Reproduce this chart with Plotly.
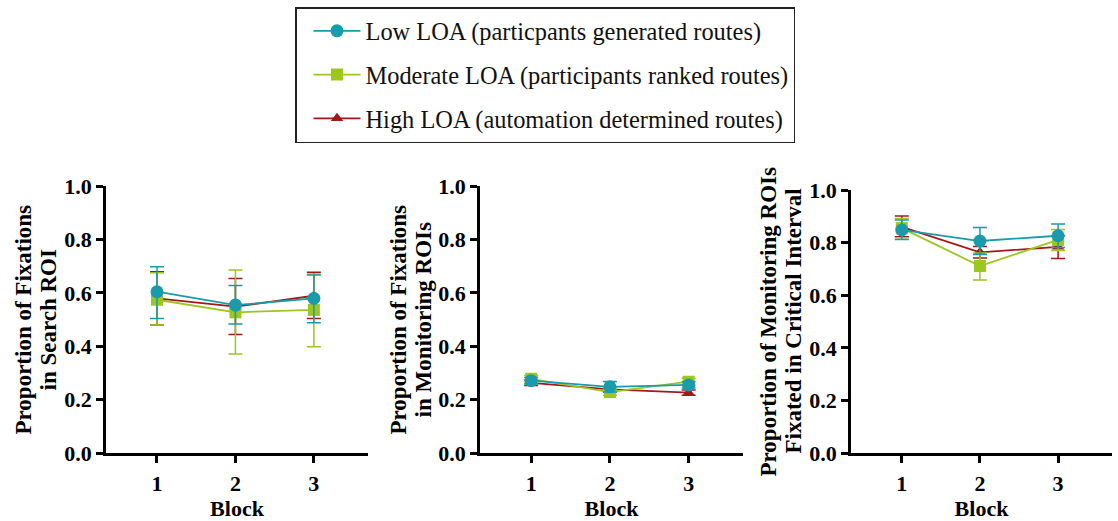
import plotly.graph_objects as go

blocks = ["1", "2", "3"]
series_names = [
    "Low LOA (particpants generated routes)",
    "Moderate LOA (participants ranked routes)",
    "High LOA (automation determined routes)",
]
y_title_lines = [
    ["Proportion of Fixations", "in Search ROI"],
    ["Proportion of Fixations", "in Monitoring ROIs"],
    ["Proportion of Monitoring ROIs", "Fixated in Critical Interval"],
]
x_title = "Block"
y_ticks = [0.0, 0.2, 0.4, 0.6, 0.8, 1.0]

# Panel 1: Search ROI
p1_low_mean = [0.604, 0.554, 0.579]
p1_low_up = [0.698, 0.627, 0.667]
p1_low_lo = [0.504, 0.483, 0.488]
p1_mod_mean = [0.574, 0.527, 0.536]
p1_mod_up = [0.675, 0.685, 0.670]
p1_mod_lo = [0.479, 0.371, 0.398]
p1_high_mean = [0.579, 0.548, 0.589]
p1_high_up = [0.679, 0.654, 0.677]
p1_high_lo = [0.479, 0.444, 0.504]

# Panel 2: Monitoring ROIs
p2_low_mean = [0.271, 0.248, 0.255]
p2_low_up = [0.283, 0.268, 0.267]
p2_low_lo = [0.259, 0.228, 0.243]
p2_mod_mean = [0.278, 0.228, 0.267]
p2_mod_up = [0.290, 0.240, 0.280]
p2_mod_lo = [0.266, 0.216, 0.254]
p2_high_mean = [0.263, 0.238, 0.226]
p2_high_up = [0.273, 0.248, 0.236]
p2_high_lo = [0.253, 0.228, 0.216]

# Panel 3: Critical interval
p3_low_mean = [0.848, 0.806, 0.826]
p3_low_up = [0.886, 0.857, 0.871]
p3_low_lo = [0.812, 0.755, 0.781]
p3_mod_mean = [0.855, 0.711, 0.810]
p3_mod_up = [0.892, 0.760, 0.850]
p3_mod_lo = [0.818, 0.658, 0.770]
p3_high_mean = [0.860, 0.763, 0.784]
p3_high_up = [0.901, 0.785, 0.826]
p3_high_lo = [0.822, 0.741, 0.740]

panels = [
    [(p1_low_mean, p1_low_up, p1_low_lo), (p1_mod_mean, p1_mod_up, p1_mod_lo), (p1_high_mean, p1_high_up, p1_high_lo)],
    [(p2_low_mean, p2_low_up, p2_low_lo), (p2_mod_mean, p2_mod_up, p2_mod_lo), (p2_high_mean, p2_high_up, p2_high_lo)],
    [(p3_low_mean, p3_low_up, p3_low_lo), (p3_mod_mean, p3_mod_up, p3_mod_lo), (p3_high_mean, p3_high_up, p3_high_lo)],
]

colors = ["#1a9bab", "#9cc620", "#a31818"]
symbols = ["circle", "square", "triangle-up"]
msizes = [13, 12, 11]

SERIF = "Liberation Serif"
W, H = 1118, 521

x_domains = [(106 / W, 368 / W), (480 / W, 743 / W), (851 / W, 1112 / W)]
y_domains = [(1 - 453 / H, 1 - 186 / H), (1 - 453 / H, 1 - 186 / H), (1 - 453 / H, 1 - 190 / H)]
title_x_px = [(23, 48), (398, 423), (768, 793)]

fig = go.Figure()

draw_order = [2, 1, 0]
for p, pdata in enumerate(panels):
    xa = "x" if p == 0 else f"x{p+1}"
    ya = "y" if p == 0 else f"y{p+1}"
    for s in draw_order:
        mean, up, lo = pdata[s]
        plus = [u - m for u, m in zip(up, mean)]
        minus = [m - l for m, l in zip(mean, lo)]
        fig.add_trace(go.Scatter(
            x=[1, 2, 3], y=mean, xaxis=xa, yaxis=ya,
            mode="lines+markers",
            name=series_names[s],
            legendgroup=f"g{s}",
            legendrank=s + 1,
            showlegend=(p == 0),
            line=dict(color=colors[s], width=1.8),
            marker=dict(symbol=symbols[s], size=msizes[s], color=colors[s]),
            error_y=dict(type="data", symmetric=False, array=plus, arrayminus=minus,
                         color=colors[s], thickness=1.5, width=7),
        ))

annotations = []
for p in range(3):
    yc = (y_domains[p][0] + y_domains[p][1]) / 2
    for li, line in enumerate(y_title_lines[p]):
        annotations.append(dict(
            text=f"<b>{line}</b>", textangle=-90,
            xref="paper", yref="paper",
            x=title_x_px[p][li] / W, y=yc,
            xanchor="center", yanchor="middle",
            showarrow=False,
            font=dict(family=SERIF, size=23, color="black"),
        ))

layout = dict(
    width=W, height=H,
    margin=dict(l=0, r=0, t=0, b=0, autoexpand=False),
    paper_bgcolor="white", plot_bgcolor="white",
    font=dict(family=SERIF, color="black"),
    annotations=annotations,
    legend=dict(
        xref="container", yref="container",
        x=295 / W, y=1 - 7 / H, xanchor="left", yanchor="top",
        bordercolor="#222222", borderwidth=1.5, bgcolor="white",
        font=dict(family=SERIF, size=24.4, color="#111111"),
        tracegroupgap=9, itemwidth=47, indentation=12,
    ),
)
for p in range(3):
    k = "" if p == 0 else str(p + 1)
    layout[f"xaxis{k}"] = dict(
        domain=list(x_domains[p]), anchor=f"y{k}",
        range=[0.35, 3.69], tickvals=[1, 2, 3], ticktext=blocks,
        showline=True, linecolor="black", linewidth=2.5,
        ticks="outside", ticklen=7, tickwidth=2.5, tickcolor="black",
        ticklabelstandoff=2,
        showgrid=False, zeroline=False,
        tickfont=dict(family=SERIF, size=22, color="black", weight="bold"),
        title=dict(text=f"<b>{x_title}</b>", font=dict(family=SERIF, size=22, color="black"), standoff=9),
    )
    layout[f"yaxis{k}"] = dict(
        domain=list(y_domains[p]), anchor=f"x{k}",
        range=[0, 1.0], tickvals=y_ticks, ticktext=[f"{v:.1f}" for v in y_ticks],
        showline=True, linecolor="black", linewidth=2.5,
        ticks="outside", ticklen=7, tickwidth=2.5, tickcolor="black",
        showgrid=False, zeroline=False,
        tickfont=dict(family=SERIF, size=22, color="black", weight="bold"),
    )

fig.update_layout(**layout)
fig.write_html("out.html")
